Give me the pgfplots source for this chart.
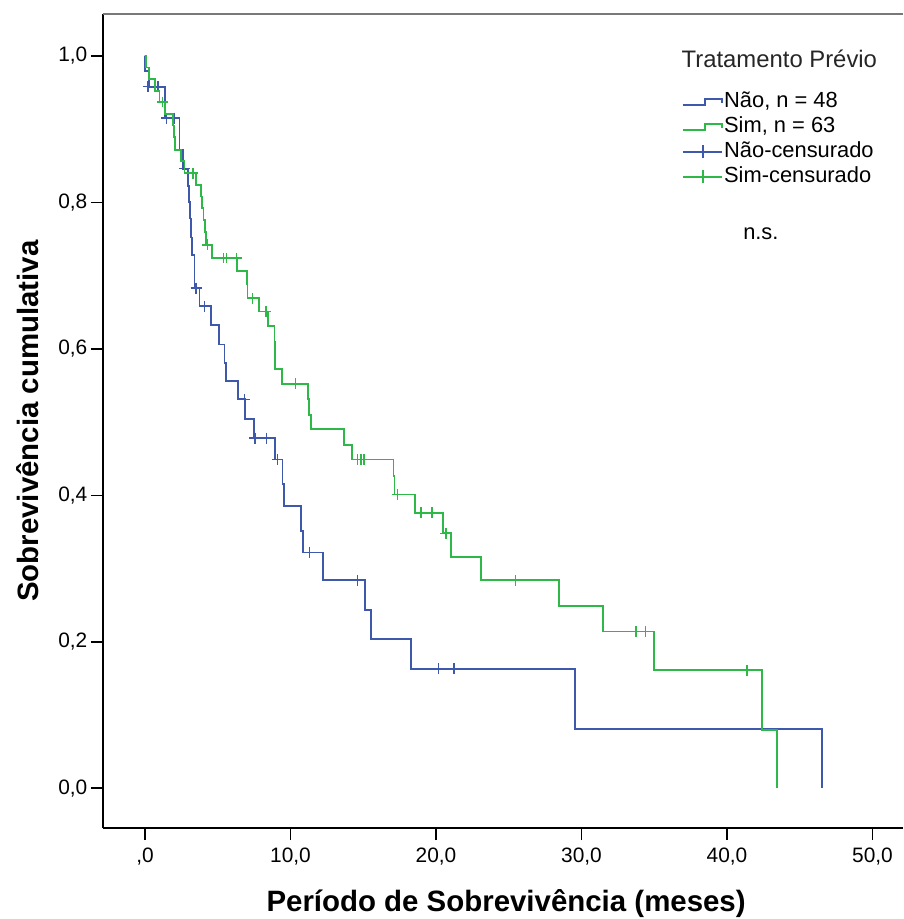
\documentclass[border=0pt]{standalone}
\usepackage{pgfplots}
\pgfplotsset{compat=1.18}
\usepackage{fontspec}
\setmainfont{Liberation Sans}
\definecolor{kmblue}{RGB}{62,88,172}
\definecolor{kmgreen}{RGB}{46,184,72}
\definecolor{topgray}{RGB}{120,120,120}

\begin{document}
\begin{tikzpicture}
\begin{axis}[
  scale only axis,
  width=802bp, height=816bp,
  xmin=-2.9, xmax=52.1,
  ymin=-0.0545, ymax=1.0572,
  clip mode=individual,
  axis lines*=left,
  axis line style={line width=1.6bp, black, -},
  xtick={0,10,20,30,40,50},
  xticklabels={{,0},{10,0},{20,0},{30,0},{40,0},{50,0}},
  ytick={0,0.2,0.4,0.6,0.8,1.0},
  yticklabels={{0,0},{0,2},{0,4},{0,6},{0,8},{1,0}},
  tick align=outside,
  major tick length=12bp,
  tick style={line width=1.6bp, black},
  ticklabel style={font=\fontsize{21}{24}\selectfont},
  xticklabel style={yshift=-4bp},
  xlabel={Período de Sobrevivência (meses)},
  ylabel={Sobrevivência cumulativa},
  label style={font=\bfseries\fontsize{29.6}{32}\selectfont},
  xlabel style={at={(axis description cs:0.504,-0.092)}, anchor=center},
  ylabel style={at={(axis description cs:-0.0935,0.5)}, anchor=center},
  legend style={draw=none, fill=none, at={(axis description cs:0.72,0.91)}, anchor=north west,
    font=\fontsize{22}{25}\selectfont, row sep=0bp,
    nodes={inner sep=1.5bp, text height=16.5bp, text depth=5.5bp}},
  legend cell align=left,
  after end axis/.code={
    \draw[draw=topgray, line width=2.4bp] (rel axis cs:0,1) -- (rel axis cs:1,1);
  },
]
\coordinate (BL) at (rel axis cs:0,0);
\coordinate (TR) at (rel axis cs:1,1);

% Nao (blue) Kaplan-Meier steps
\addplot[const plot, kmblue, line width=1.8bp, forget plot] coordinates {
(0,1.0) (0.02,0.979) (0.27,0.958) (1.35,0.915) (2.37,0.871) (2.6,0.846)
(2.95,0.822) (3.02,0.801) (3.1,0.778) (3.18,0.752) (3.25,0.728) (3.41,0.683)
(3.75,0.658) (4.55,0.632) (5.08,0.606) (5.47,0.581) (5.58,0.556) (6.38,0.531)
(6.9,0.504) (7.52,0.478) (8.96,0.449) (9.45,0.415) (9.55,0.385) (10.72,0.351)
(10.84,0.322) (12.26,0.284) (15.1,0.243) (15.55,0.204) (18.27,0.163)
(29.54,0.081) (46.55,0.081) (46.55,0.0)
};
\addplot[only marks, mark=+, mark size=5.5bp, kmblue, mark options={line width=1.6bp}, forget plot] coordinates {
(0.21,0.958) (0.89,0.958) (1.47,0.915) (2.04,0.915) (2.72,0.846) (3.52,0.683)
(4.09,0.658) (6.84,0.531) (7.55,0.478) (8.35,0.478) (9.12,0.449) (11.3,0.322)
(14.6,0.284) (20.17,0.163) (21.24,0.163)
};

% Sim (green) Kaplan-Meier steps
\addplot[const plot, kmgreen, line width=1.8bp, forget plot] coordinates {
(0,1.0) (0.05,0.984) (0.25,0.968) (0.7,0.952) (1.0,0.937) (1.4,0.921)
(1.92,0.905) (2.0,0.889) (2.05,0.872) (2.5,0.856) (2.72,0.84) (3.52,0.824)
(3.87,0.808) (3.94,0.792) (4.02,0.776) (4.1,0.76) (4.2,0.742) (4.62,0.724)
(6.31,0.706) (7.0,0.688) (7.05,0.669) (7.82,0.651) (8.44,0.631) (8.9,0.61)
(8.93,0.59) (8.96,0.572) (9.42,0.552) (11.18,0.531) (11.25,0.51) (11.41,0.49)
(13.7,0.469) (14.22,0.449) (17.08,0.426) (17.15,0.401) (18.54,0.376)
(20.49,0.348) (21.01,0.316) (23.07,0.284) (28.44,0.249) (31.46,0.214)
(34.96,0.161) (42.39,0.080) (43.42,0.080) (43.42,0.0)
};
\addplot[only marks, mark=+, mark size=5.5bp, kmgreen, mark options={line width=1.6bp}, forget plot] coordinates {
(1.2,0.937) (3.3,0.84) (4.3,0.742) (5.4,0.724) (5.6,0.724) (6.3,0.724)
(7.4,0.669) (8.3,0.651) (10.34,0.552) (14.6,0.449) (14.84,0.449) (15.07,0.449)
(17.35,0.401) (18.96,0.376) (19.71,0.376) (20.67,0.348) (25.47,0.284)
(33.75,0.214) (34.39,0.214) (41.36,0.161)
};

\addlegendimage{legend image code/.code={\draw[kmblue, line width=1.6bp] (0bp,-3bp) -- (22bp,-3bp) -- (22bp,3bp) -- (39bp,3bp) -- (39bp,-1bp);}}
\addlegendentry{Não, n = 48}
\addlegendimage{legend image code/.code={\draw[kmgreen, line width=1.6bp] (0bp,-3bp) -- (22bp,-3bp) -- (22bp,3bp) -- (39bp,3bp) -- (39bp,-1bp);}}
\addlegendentry{Sim, n = 63}
\addlegendimage{legend image code/.code={\draw[kmblue, line width=1.6bp] (0bp,0bp) -- (39bp,0bp); \draw[kmblue, line width=1.6bp] (20bp,-6.5bp) -- (20bp,6.5bp);}}
\addlegendentry{Não-censurado}
\addlegendimage{legend image code/.code={\draw[kmgreen, line width=1.6bp] (0bp,0bp) -- (39bp,0bp); \draw[kmgreen, line width=1.6bp] (20bp,-6.5bp) -- (20bp,6.5bp);}}
\addlegendentry{Sim-censurado}

\node[font=\fontsize{24}{27}\selectfont, text=black!85] at (axis cs:43.6,0.996) {Tratamento Prévio};
\node[font=\fontsize{22}{25}\selectfont] at (axis cs:42.33,0.757) {n.s.};
\end{axis}
\pgfresetboundingbox
\path[use as bounding box] ([xshift=-103bp,yshift=-91bp]BL) rectangle ([yshift=14bp]TR);
\end{tikzpicture}
\end{document}
